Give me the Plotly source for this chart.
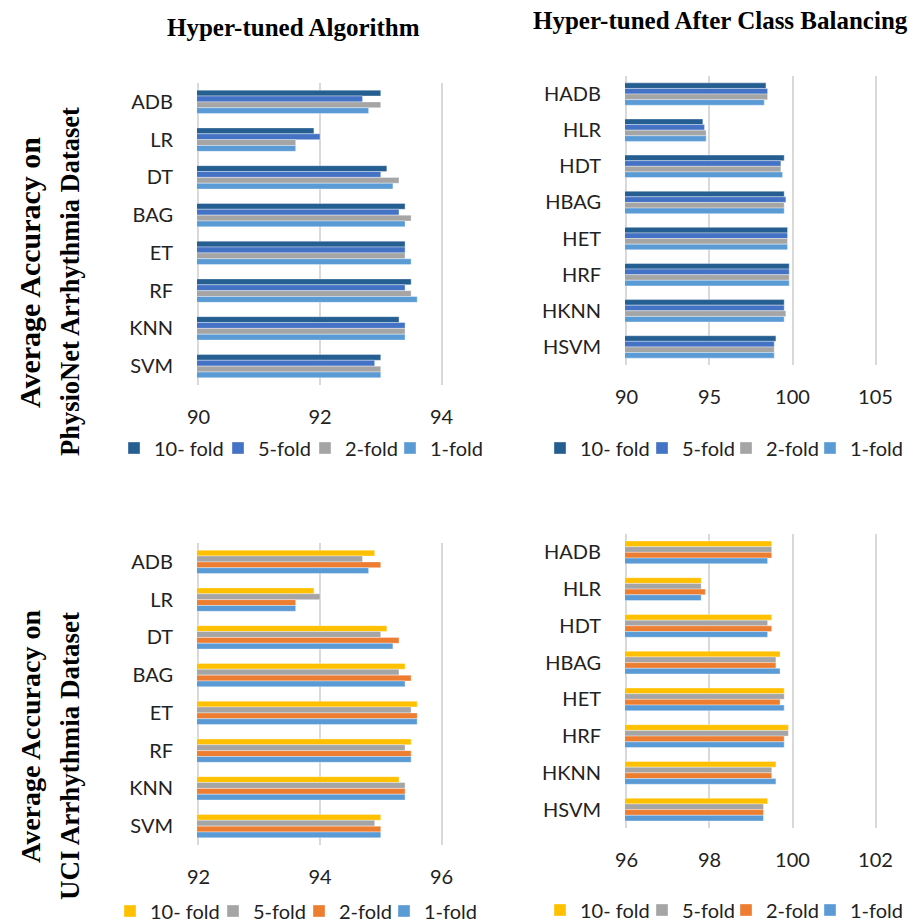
import plotly.graph_objects as go

W, H = 920, 924

# ---------------- data ----------------
algos = ["ADB", "LR", "DT", "BAG", "ET", "RF", "KNN", "SVM"]
h_algos = ["HADB", "HLR", "HDT", "HBAG", "HET", "HRF", "HKNN", "HSVM"]
folds = ["10- fold", "5-fold", "2-fold", "1-fold"]

# PhysioNet, hyper-tuned algorithm
phys_10 = [93.0, 91.9, 93.1, 93.4, 93.4, 93.5, 93.3, 93.0]
phys_5 = [92.7, 92.0, 93.0, 93.3, 93.4, 93.4, 93.4, 92.9]
phys_2 = [93.0, 91.6, 93.3, 93.5, 93.4, 93.5, 93.4, 93.0]
phys_1 = [92.8, 91.6, 93.2, 93.4, 93.5, 93.6, 93.4, 93.0]

# PhysioNet, hyper-tuned after class balancing
physb_10 = [98.4, 94.6, 99.5, 99.5, 99.7, 99.8, 99.5, 99.0]
physb_5 = [98.5, 94.7, 99.3, 99.6, 99.7, 99.8, 99.5, 98.9]
physb_2 = [98.5, 94.8, 99.3, 99.5, 99.7, 99.8, 99.6, 98.9]
physb_1 = [98.3, 94.8, 99.4, 99.5, 99.7, 99.8, 99.5, 98.9]

# UCI, hyper-tuned algorithm
uci_10 = [94.9, 93.9, 95.1, 95.4, 95.6, 95.5, 95.3, 95.0]
uci_5 = [94.7, 94.0, 95.0, 95.3, 95.5, 95.4, 95.4, 94.9]
uci_2 = [95.0, 93.6, 95.3, 95.5, 95.6, 95.5, 95.4, 95.0]
uci_1 = [94.8, 93.6, 95.2, 95.4, 95.6, 95.5, 95.4, 95.0]

# UCI, hyper-tuned after class balancing
ucib_10 = [99.5, 97.8, 99.5, 99.7, 99.8, 99.9, 99.6, 99.4]
ucib_5 = [99.5, 97.8, 99.4, 99.6, 99.8, 99.9, 99.5, 99.3]
ucib_2 = [99.5, 97.9, 99.5, 99.6, 99.7, 99.8, 99.5, 99.3]
ucib_1 = [99.4, 97.8, 99.4, 99.7, 99.8, 99.8, 99.6, 99.3]

colors_top = ["#255E91", "#4472C4", "#A5A5A5", "#5B9BD5"]
colors_bot = ["#FFC000", "#A5A5A5", "#ED7D31", "#5B9BD5"]

SANS = "Lato, 'Open Sans', sans-serif"
SERIF = "'Liberation Serif', 'Times New Roman', serif"


def px_x(p):
    return p / W


def px_y(p):
    return 1 - p / H


fig = go.Figure()

# panel: categories, series, colours, axes, legend item positions (px) and legend row (px)
panels = [
    (algos, [phys_10, phys_5, phys_2, phys_1], colors_top, "x", "y",
     [131, 235, 322, 407], 448),
    (h_algos, [physb_10, physb_5, physb_2, physb_1], colors_top, "x2", "y2",
     [557, 659, 743, 827], 448),
    (algos, [uci_10, uci_5, uci_2, uci_1], colors_bot, "x3", "y3",
     [127, 230, 316, 401], 911),
    (h_algos, [ucib_10, ucib_5, ucib_2, ucib_1], colors_bot, "x4", "y4",
     [557, 659, 743, 827], 910),
]

legend_common = dict(orientation="h", font=dict(family=SANS, size=20, color="#222222"),
                     xanchor="left", yanchor="middle", bgcolor="rgba(0,0,0,0)",
                     traceorder="normal", itemwidth=30, tracegroupgap=0)

legend_layout = {}
k = 0
for cats, series, cols, xa, ya, lpos, lrow in panels:
    for name, vals, c, lx in zip(folds, series, cols, lpos):
        k += 1
        lid = "legend" if k == 1 else "legend%d" % k
        legend_layout[lid] = dict(legend_common, x=px_x(lx - 17), y=px_y(lrow))
        fig.add_trace(go.Bar(
            y=cats, x=vals, name=name, orientation="h",
            marker=dict(color=c, line=dict(color="rgba(255,255,255,0.6)", width=0.6)),
            xaxis=xa, yaxis=ya, legend=lid, showlegend=True,
        ))

XL = (197, 443)
XR = (625, 877)
xdom_l = [px_x(XL[0]), px_x(XL[1])]
xdom_r = [px_x(XR[0]), px_x(XR[1])]

axis_font = dict(family=SANS, size=20, color="#222222")


def xax(dom, anchor, rng, dtick, pxw):
    # tiny padding (~1.5 px) so the gridlines at both range ends are drawn
    eps = (rng[1] - rng[0]) * 1.5 / pxw
    return dict(domain=dom, anchor=anchor, range=[rng[0] - eps, rng[1] + eps],
                dtick=dtick, tick0=rng[0],
                showgrid=True, gridcolor="#D9D9D9", gridwidth=1.5,
                zeroline=False, showline=False, ticks="",
                tickfont=axis_font, ticklabelstandoff=18, fixedrange=True,
                automargin=False)


def yax(dom, anchor):
    return dict(domain=dom, anchor=anchor, autorange="reversed",
                showgrid=False, zeroline=False, showline=False, ticks="",
                tickfont=axis_font, ticklabelstandoff=23, fixedrange=True,
                automargin=False)


fig.update_layout(
    width=W, height=H,
    showlegend=True,
    margin=dict(l=0, r=0, t=0, b=0, autoexpand=False),
    paper_bgcolor="white", plot_bgcolor="white",
    barmode="group", bargap=0.38, bargroupgap=0,
    xaxis=xax(xdom_l, "y", [90, 94], 2, XL[1] - XL[0]),
    yaxis=yax([px_y(385), px_y(83)], "x"),
    xaxis2=xax(xdom_r, "y2", [90, 105], 5, XR[1] - XR[0]),
    yaxis2=yax([px_y(365), px_y(76)], "x2"),
    xaxis3=xax(xdom_l, "y3", [92, 96], 2, XL[1] - XL[0]),
    yaxis3=yax([px_y(845), px_y(543)], "x3"),
    xaxis4=xax(xdom_r, "y4", [96, 102], 2, XR[1] - XR[0]),
    yaxis4=yax([px_y(828), px_y(534)], "x4"),
    **legend_layout,
)

title_font = dict(family=SERIF, size=25, color="black")

annotations = [
    dict(text="<b>Hyper-tuned Algorithm</b>", x=px_x(293), y=px_y(28), font=title_font),
    dict(text="<b>Hyper-tuned After Class Balancing</b>", x=px_x(720), y=px_y(20), font=title_font),
    dict(text="<b>Average Accuracy on</b>", x=px_x(30), y=px_y(273),
         font=dict(family=SERIF, size=30, color="black"), textangle=-90),
    dict(text="<b>PhysioNet Arrhythmia Dataset</b>", x=px_x(70), y=px_y(282),
         font=dict(family=SERIF, size=26.5, color="black"), textangle=-90),
    dict(text="<b>Average Accuracy on</b>", x=px_x(30), y=px_y(737),
         font=dict(family=SERIF, size=28, color="black"), textangle=-90),
    dict(text="<b>UCI Arrhythmia Dataset</b>", x=px_x(70), y=px_y(756),
         font=dict(family=SERIF, size=27, color="black"), textangle=-90),
]
for a in annotations:
    a.update(xref="paper", yref="paper", showarrow=False, xanchor="center", yanchor="middle")
fig.update_layout(annotations=annotations)

fig.write_html("out.html", config={"displayModeBar": False},
               post_script="document.body.style.margin='0px';document.body.style.padding='0px';")
